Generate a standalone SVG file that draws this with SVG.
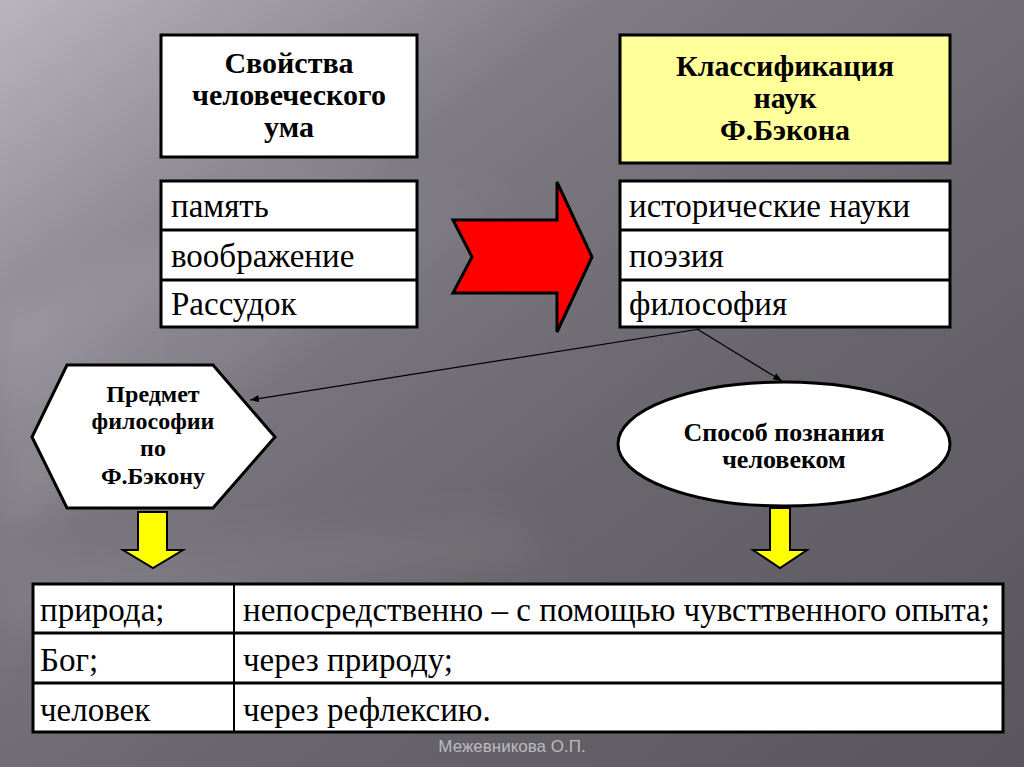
<svg xmlns="http://www.w3.org/2000/svg" width="1024" height="767" viewBox="0 0 1024 767">
<defs>
<linearGradient id="bg" x1="0" y1="0" x2="1" y2="1">
<stop offset="0" stop-color="#b9b4be"/>
<stop offset="0.3" stop-color="#7f7b84"/>
<stop offset="0.6" stop-color="#69666d"/>
<stop offset="1" stop-color="#58565c"/>
</linearGradient>
<linearGradient id="streak" x1="0" y1="0" x2="1" y2="0.3">
<stop offset="0" stop-color="#ffffff" stop-opacity="0.14"/>
<stop offset="1" stop-color="#ffffff" stop-opacity="0"/>
</linearGradient>
<filter id="blur" x="-0.2" y="-0.2" width="1.4" height="1.4"><feGaussianBlur stdDeviation="18"/></filter>
<marker id="ah" viewBox="0 0 10 10" refX="10" refY="5" markerWidth="9" markerHeight="9" markerUnits="userSpaceOnUse" orient="auto">
<path d="M0,1 L10,5 L0,9 z" fill="#000"/>
</marker>
</defs>
<style>
.box{fill:#fff;stroke:#000;stroke-width:3}
.yel{fill:#ffff99;stroke:#000;stroke-width:3}
.ttl{font-family:"Liberation Serif","Times New Roman",serif;font-weight:bold;font-size:30px;text-anchor:middle;fill:#000}
.sh{font-size:26px}
.hx{font-size:24px}
.itm{font-family:"Liberation Serif","Times New Roman",serif;font-size:33px;fill:#000}
.con{stroke:#000;stroke-width:1.2;fill:none}
.yarr{fill:#ffff00;stroke:#000;stroke-width:2}
</style>
<rect width="1024" height="767" fill="url(#bg)"/>
<g filter="url(#blur)">
<polygon points="0,320 320,170 520,200 0,540" fill="url(#streak)"/>
<polygon points="0,560 500,520 560,560 0,640" fill="#ffffff" opacity="0.06"/>
</g>

<g id="n-properties">
<rect class="box" x="161" y="35" width="256" height="122"/>
<text class="ttl" x="289" y="73">Свойства</text>
<text class="ttl" x="289" y="105">человеческого</text>
<text class="ttl" x="289" y="137">ума</text>
</g>
<g id="n-classification">
<rect class="yel" x="620" y="35" width="330" height="128"/>
<text class="ttl" x="785" y="76">Классификация</text>
<text class="ttl" x="785" y="108">наук</text>
<text class="ttl" x="785" y="140">Ф.Бэкона</text>
</g>
<g id="n-left-list">
<rect class="box" x="161" y="181" width="256" height="146"/>
<line x1="161" y1="230" x2="417" y2="230" stroke="#000" stroke-width="3"/>
<line x1="161" y1="280" x2="417" y2="280" stroke="#000" stroke-width="3"/>
<text class="itm" x="171" y="217">память</text>
<text class="itm" x="171" y="267">воображение</text>
<text class="itm" x="171" y="315">Рассудок</text>
</g>
<g id="n-right-list">
<rect class="box" x="620" y="181" width="330" height="146"/>
<line x1="620" y1="230" x2="950" y2="230" stroke="#000" stroke-width="3"/>
<line x1="620" y1="280" x2="950" y2="280" stroke="#000" stroke-width="3"/>
<text class="itm" x="629" y="217">исторические науки</text>
<text class="itm" x="629" y="267">поэзия</text>
<text class="itm" x="629" y="315">философия</text>
</g>
<g id="n-red-arrow">
<polygon points="453,220 557,220 557,182 592,257 557,332 557,293 453,293 472,257" fill="#ff0000" stroke="#000" stroke-width="3" stroke-linejoin="miter"/>
</g>
<g id="n-subject">
<polygon class="box" points="67,365 213,365 275,437 213,508 67,508 32,437"/>
<text class="ttl hx" x="153" y="402">Предмет</text>
<text class="ttl hx" x="153" y="429">философии</text>
<text class="ttl hx" x="153" y="456">по</text>
<text class="ttl hx" x="153" y="484">Ф.Бэкону</text>
</g>
<g id="n-method">
<ellipse class="box" cx="784" cy="444" rx="166" ry="62"/>
<text class="ttl sh" x="784" y="441">Способ познания</text>
<text class="ttl sh" x="784" y="468">человеком</text>
</g>
<g id="n-yellow-left">
<polygon class="yarr" points="138,512 167,512 167,550 183,550 153,568 123,550 138,550"/>
</g>
<g id="n-yellow-right">
<polygon class="yarr" points="770,508 790,508 790,550 807,550 780,568 753,550 770,550"/>
</g>
<g id="n-table">
<rect class="box" x="33" y="584" width="970" height="148"/>
<line x1="33" y1="633" x2="1003" y2="633" stroke="#000" stroke-width="3"/>
<line x1="33" y1="683" x2="1003" y2="683" stroke="#000" stroke-width="3"/>
<line x1="234" y1="584" x2="234" y2="732" stroke="#000" stroke-width="2"/>
<text class="itm" x="40" y="621">природа;</text>
<text class="itm" x="243" y="621">непосредственно – с помощью чувсттвенного опыта;</text>
<text class="itm" x="40" y="671">Бог;</text>
<text class="itm" x="243" y="671">через природу;</text>
<text class="itm" x="40" y="721">человек</text>
<text class="itm" x="243" y="721">через рефлексию.</text>
</g>
<g id="connectors">
<line class="con" x1="700" y1="329" x2="250" y2="400" marker-end="url(#ah)"/>
<line class="con" x1="697" y1="329" x2="782" y2="381" marker-end="url(#ah)"/>
</g>
<text x="512" y="752" style="font-family:'Liberation Sans',sans-serif;font-size:17px;fill:#bdb9bf;text-anchor:middle">Межевникова О.П.</text>
</svg>
